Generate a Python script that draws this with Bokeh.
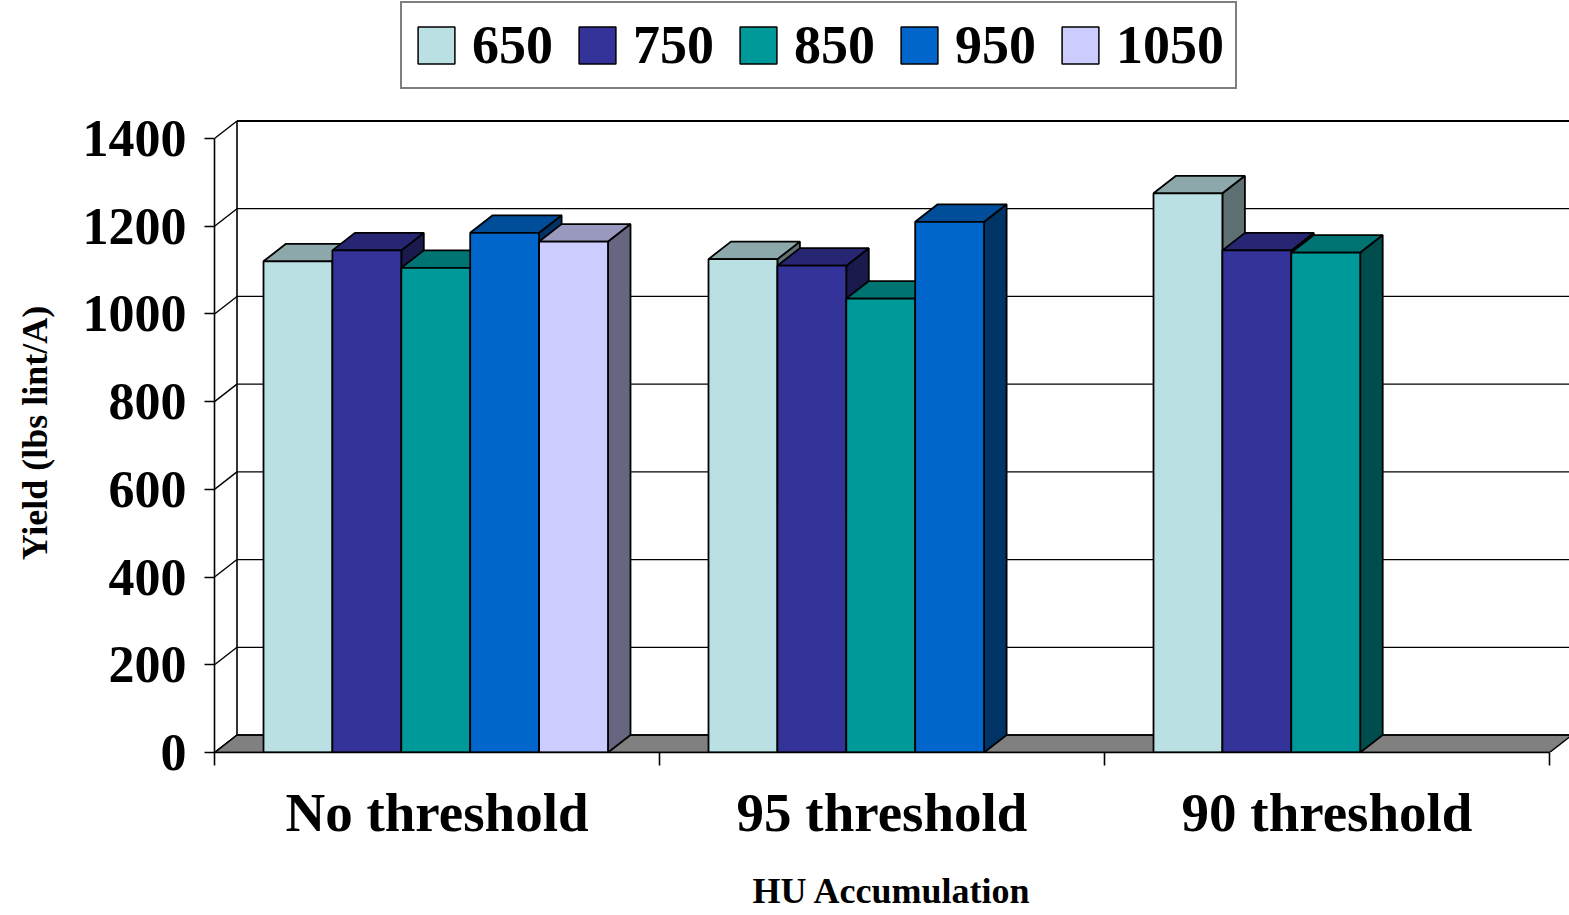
from bokeh.plotting import figure
from bokeh.layouts import column
from bokeh.models import (Range1d, LinearAxis, FixedTicker, Legend, LegendItem)
from bokeh.embed import file_html
from bokeh.resources import INLINE

# ---------------- data ----------------
categories = ["No threshold", "95 threshold", "90 threshold"]
series_names = ["650", "750", "850", "950", "1050"]
hu_650 = [1120, 1125, 1275]
hu_750 = [1145, 1110, 1145]
hu_850 = [1105, 1035, 1140]
hu_950 = [1185, 1210, None]
hu_1050 = [1165, None, None]
series_values = [hu_650, hu_750, hu_850, hu_950, hu_1050]
y_ticks = [0, 200, 400, 600, 800, 1000, 1200, 1400]

# ---------------- styles ----------------
front_colors = ["#BBE0E3", "#333399", "#009999", "#0066CC", "#CCCCFF"]
top_colors = ["#8CA8AA", "#262673", "#007373", "#004D99", "#9999BF"]
side_colors = ["#5E7072", "#1A1A4D", "#004D4D", "#003366", "#666680"]
FONT = "Liberation Serif"

# ---------------- geometry (pixels -> data units) ----------------
PX_Y = 614.0 / 1400.0          # px per value unit
PX_X = 445.0                   # px per category
DX = 22.5 / PX_X               # depth offset in x units
DY = 17.5 / PX_Y               # depth offset in value units
BAR_W = 68.9 / PX_X
OFF = 49.0 / PX_X

PAGE_W, PAGE_H = 1569, 915
LEG_H = 104                    # height of the legend strip on top
TOP_PAD = 9
FL = 214                       # frame left
FRAME_H = 752 - LEG_H - TOP_PAD  # frame from page y 113 to 752
MAIN_H = PAGE_H - LEG_H
x_end = (PAGE_W - FL) / PX_X
y_end = FRAME_H / PX_Y

p = figure(width=PAGE_W, height=MAIN_H, output_backend="svg", toolbar_location=None,
           x_range=Range1d(0, x_end), y_range=Range1d(0, y_end),
           x_axis_type=None, y_axis_type=None,
           min_border_left=FL, min_border_right=0, min_border_top=TOP_PAD,
           min_border_bottom=MAIN_H - FRAME_H - TOP_PAD)
p.outline_line_color = None
p.background_fill_color = "white"
p.border_fill_color = "white"
p.xgrid.visible = False
p.ygrid.visible = False

n_cat = len(categories)

# floor
p.patch([0, n_cat, n_cat + DX, DX], [0, 0, DY, DY],
        fill_color="#808080", line_color="black", line_width=1.5)

# back wall grid lines
p.multi_line([[DX, n_cat + DX] for v in y_ticks], [[v + DY, v + DY] for v in y_ticks],
             line_color="black", line_width=1.3)
# left wall diagonals + back vertical
p.multi_line([[0, DX] for v in y_ticks], [[v, v + DY] for v in y_ticks],
             line_color="black", line_width=1.4)
p.line([DX, DX], [DY, y_ticks[-1] + DY], line_color="black", line_width=1.6)
p.line([DX, n_cat + DX], [y_ticks[-1] + DY] * 2, line_color="black", line_width=2)

# bars
front_renderers = []
for j, (name, vals) in enumerate(zip(series_names, series_values)):
    lefts, rights, tops = [], [], []
    side_xs, side_ys, top_xs, top_ys = [], [], [], []
    for i, v in enumerate(vals):
        if v is None:
            continue
        L = i + OFF + j * BAR_W
        R = L + BAR_W
        lefts.append(L); rights.append(R); tops.append(v)
        side_xs.append([R, R + DX, R + DX, R])
        side_ys.append([0, DY, v + DY, v])
        top_xs.append([L, R, R + DX, L + DX])
        top_ys.append([v, v, v + DY, v + DY])
    p.patches(side_xs, side_ys, fill_color=side_colors[j], line_color="black", line_width=1.8)
    p.patches(top_xs, top_ys, fill_color=top_colors[j], line_color="black", line_width=1.8)
    r = p.quad(left=lefts, right=rights, bottom=[0] * len(tops), top=tops,
               fill_color=front_colors[j], line_color="black", line_width=1.8)
    front_renderers.append(r)

# y axis
yaxis = LinearAxis(ticker=FixedTicker(ticks=y_ticks, minor_ticks=[]),
                   bounds=(0, y_ticks[-1]))
yaxis.axis_label = "Yield (lbs lint/A)"
yaxis.axis_label_text_font = FONT
yaxis.axis_label_text_font_style = "bold"
yaxis.axis_label_text_font_size = "36px"
yaxis.axis_label_text_color = "black"
yaxis.axis_label_standoff = 25
yaxis.major_label_text_font = FONT
yaxis.major_label_text_font_style = "bold"
yaxis.major_label_text_font_size = "52px"
yaxis.major_label_text_color = "black"
yaxis.major_label_standoff = 18
yaxis.major_tick_out = 10
yaxis.major_tick_in = 0
yaxis.minor_tick_out = 0
yaxis.minor_tick_in = 0
yaxis.axis_line_width = 1.6
yaxis.major_tick_line_width = 1.6
p.add_layout(yaxis, "left")

# x axis
centers = [i + 0.5 for i in range(n_cat)]
xaxis = LinearAxis(ticker=FixedTicker(ticks=centers, minor_ticks=list(range(n_cat + 1))),
                   bounds=(0, n_cat))
xaxis.major_label_overrides = {c: lab for c, lab in zip(centers, categories)}
xaxis.axis_label = "HU Accumulation"
xaxis.axis_label_text_font = FONT
xaxis.axis_label_text_font_style = "bold"
xaxis.axis_label_text_font_size = "36px"
xaxis.axis_label_text_color = "black"
xaxis.axis_label_standoff = 25
xaxis.major_label_text_font = FONT
xaxis.major_label_text_font_style = "bold"
xaxis.major_label_text_font_size = "55px"
xaxis.major_label_text_color = "black"
xaxis.major_label_standoff = 16
xaxis.major_tick_out = 0
xaxis.major_tick_in = 0
xaxis.minor_tick_out = 13
xaxis.minor_tick_in = 0
xaxis.minor_tick_line_width = 1.6
xaxis.axis_line_width = 1.6
p.add_layout(xaxis, "below")

# ---------------- legend strip ----------------
lg = figure(width=PAGE_W, height=LEG_H, output_backend="svg", toolbar_location=None,
            x_range=Range1d(0, 1), y_range=Range1d(0, 1),
            x_axis_type=None, y_axis_type=None,
            min_border_left=0, min_border_right=0, min_border_top=0, min_border_bottom=0)
lg.outline_line_color = None
lg.xgrid.visible = False
lg.ygrid.visible = False
legend_renderers = []
for j in range(len(series_names)):
    # off-screen swatch glyphs that only feed the legend
    legend_renderers.append(lg.quad(left=[5], right=[6], bottom=[5], top=[6],
                                    fill_color=front_colors[j], line_color="black",
                                    line_width=1.5))
legend = Legend(items=[LegendItem(label=n, renderers=[r]) for n, r in zip(series_names, legend_renderers)],
                orientation="horizontal", location=(400 - FL, LEG_H - 89))
legend.label_text_font = FONT
legend.label_text_font_style = "bold"
legend.label_text_font_size = "54px"
legend.label_text_color = "black"
legend.glyph_width = 46
legend.glyph_height = 46
legend.label_standoff = 13
legend.spacing = 21
legend.padding = 11
legend.margin = 0
legend.border_line_color = "black"
legend.border_line_width = 2
legend.background_fill_color = "white"
legend.background_fill_alpha = 1.0
lg.add_layout(legend, "center")

layout = column(lg, p, spacing=0)
open("out.html", "w").write(file_html(layout, INLINE))
